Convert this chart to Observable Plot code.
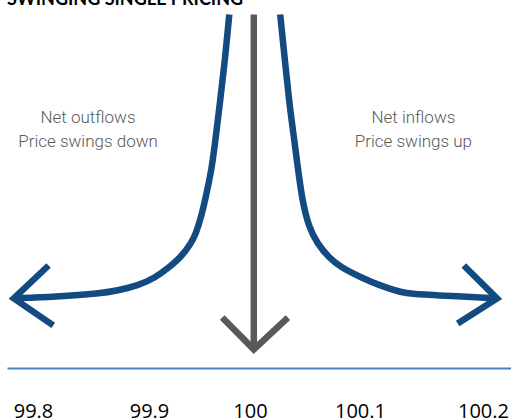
<!DOCTYPE html>
<html><head><meta charset="utf-8">
<script src="https://cdn.jsdelivr.net/npm/d3@7"></script>
<script src="https://cdn.jsdelivr.net/npm/@observablehq/plot@0.6"></script>
<style>
html,body{margin:0;padding:0;background:#fff;overflow:hidden}
#wrap{position:relative;width:511px;height:418px}
#title{position:absolute;left:7px;top:-11px;font:bold 18px Lato, sans-serif;color:#000;line-height:18px;white-space:nowrap;z-index:2}
#chart svg{display:block}
</style></head><body>
<div id="wrap"><div id="title">SWINGING SINGLE PRICING</div><div id="chart"></div></div>
<script>
// Tick values and labels
const xTicks = [99.8, 99.9, 100, 100.1, 100.2];
const tickLabels = ["99.8", "99.9", "100", "100.1", "100.2"];
// Baseline rule extent
const axisExtent = [99.778, 100.223];
// Left curve (net outflows, price swings down)
const leftCurveX = [99.979, 99.975, 99.970, 99.966, 99.962, 99.955, 99.951, 99.946, 99.941, 99.931, 99.919, 99.906, 99.890, 99.872, 99.858, 99.819, 99.783];
const leftCurveY = [100, 87.9, 75.7, 66.4, 56.8, 47.5, 42.7, 38.1, 35.3, 31.4, 28.5, 25.7, 23.4, 22.0, 21.2, 20.3, 19.8];
// Right curve (net inflows, price swings up)
const rightCurveX = [100.027, 100.031, 100.035, 100.039, 100.043, 100.047, 100.053, 100.061, 100.071, 100.082, 100.100, 100.116, 100.133, 100.141, 100.173, 100.211];
const rightCurveY = [100, 87.9, 75.7, 66.4, 56.8, 47.5, 39.9, 35.2, 31.4, 28.6, 25.8, 23.4, 21.5, 21.1, 20.5, 19.8];
// Arrowheads (wing, tip, wing)
const leftHeadX = [99.813, 99.783, 99.817];
const leftHeadY = [29.1, 19.8, 12.2];
const rightHeadX = [100.184, 100.211, 100.179];
const rightHeadY = [29.1, 19.8, 12.7];
// Central grey arrow
const midShaftX = [100.003, 100.003];
const midShaftY = [100, 5.4];
const midHeadX = [99.972, 100.003, 100.034];
const midHeadY = [14.4, 5.4, 14.4];
// Annotations
const annoText = ["Net outflows", "Price swings down", "Net inflows", "Price swings up"];
const annoX = [99.847, 99.847, 100.143, 100.143];
const annoY = [71.0, 64.0, 71.0, 64.0];

const pts = (xs, ys) => xs.map((x, i) => ({x, y: ys[i]}));
const blue = "#144a82";
const grey = "#595959";
const lineOpts = (stroke) => ({x: "x", y: "y", stroke, strokeWidth: 6.5, strokeLinecap: "butt", strokeLinejoin: "miter", strokeMiterlimit: 10});

// The reference's tick labels are not evenly spaced: a piecewise-linear warp
const tickPx = [33, 149, 250, 360, 483];
const warp = d3.scaleLinear().domain(xTicks).range(tickPx);

const chart = Plot.plot({
  width: 511,
  height: 418,
  marginTop: 14,
  marginBottom: 50,
  marginLeft: 0,
  marginRight: 0,
  x: {type: "linear", transform: warp, domain: [0, 511], range: [0, 511]},
  y: {domain: [0, 100], axis: null},
  style: {background: "#fff", overflow: "visible"},
  marks: [
    Plot.ruleY([0], {x1: axisExtent[0], x2: axisExtent[1], stroke: "#4f81bd", strokeWidth: 2}),
    Plot.axisX(xTicks, {tickSize: 0, tickPadding: 35, tickFormat: d => tickLabels[xTicks.indexOf(d)], fontSize: 20, fontFamily: "Open Sans", fill: "#000", label: null}),
    Plot.line(pts(midShaftX, midShaftY), lineOpts(grey)),
    Plot.line(pts(midHeadX, midHeadY), lineOpts(grey)),
    Plot.line(pts(leftCurveX, leftCurveY), {...lineOpts(blue), curve: "basis"}),
    Plot.line(pts(rightCurveX, rightCurveY), {...lineOpts(blue), curve: "basis"}),
    Plot.line(pts(leftHeadX, leftHeadY), lineOpts(blue)),
    Plot.line(pts(rightHeadX, rightHeadY), lineOpts(blue)),
    Plot.text(annoText.map((t, i) => ({t, x: annoX[i], y: annoY[i]})), {x: "x", y: "y", text: "t", fontSize: 17, fontFamily: "Roboto", fontWeight: 300, fill: grey})
  ]
});
document.getElementById("chart").appendChild(chart);
</script>
</body></html>
